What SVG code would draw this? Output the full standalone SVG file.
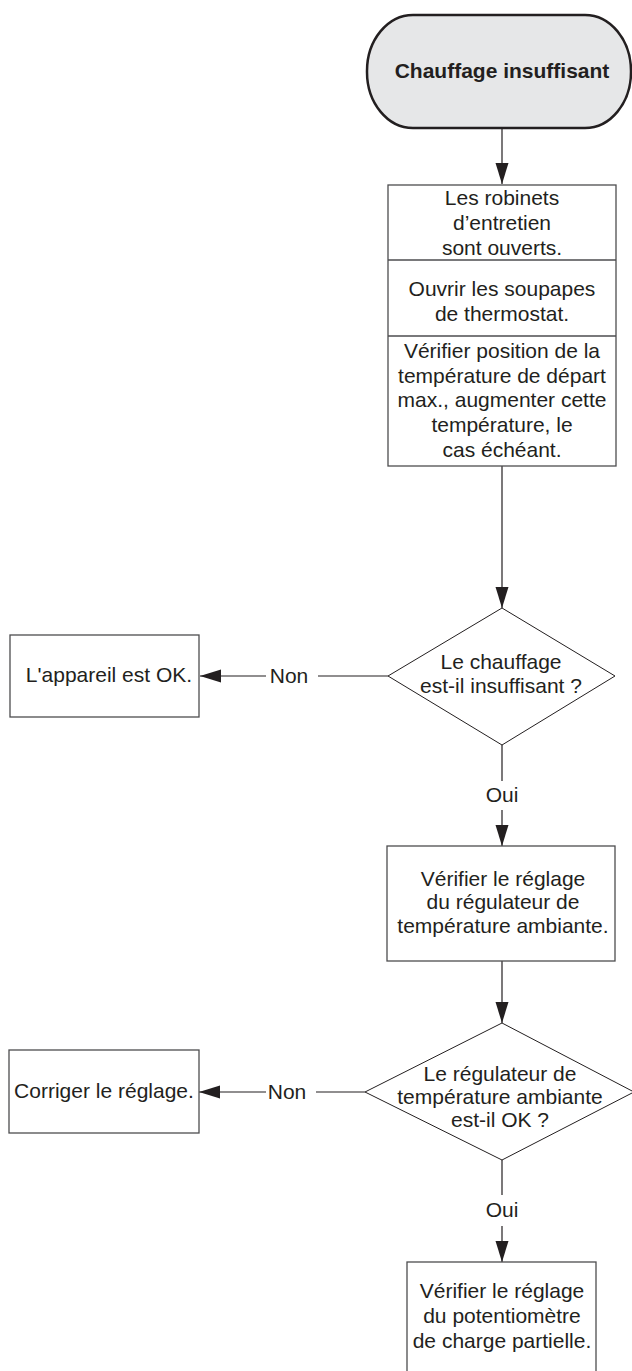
<svg xmlns="http://www.w3.org/2000/svg" width="632" height="1371" viewBox="0 0 632 1371">
  <style>
    .t { font-family: "Liberation Sans", Arial, sans-serif; font-size: 21px; fill: #231f20; text-anchor: middle; }
    .b { font-weight: bold; }
    .box { fill: #ffffff; stroke: #4d4d4f; stroke-width: 1.3; }
    .dia { fill: #ffffff; stroke: #231f20; stroke-width: 1; }
    .term { fill: #e6e7e8; stroke: #231f20; stroke-width: 2.5; }
    .ln { fill: none; stroke: #231f20; stroke-width: 1.2; }
    .arr { marker-end: url(#head); }
  </style>
  <defs>
    <marker id="head" markerUnits="userSpaceOnUse" markerWidth="22" markerHeight="14" refX="21" refY="6.5" orient="auto">
      <path d="M0,0 L21,6.5 L0,13 Z" fill="#231f20"/>
    </marker>
  </defs>
  <rect width="632" height="1371" fill="#ffffff"/>

  <!-- connectors -->
  <g id="connectors">
    <line class="ln arr" x1="502" y1="128" x2="502" y2="184"/>
    <line class="ln arr" x1="502" y1="466" x2="502" y2="608"/>
    <line class="ln" x1="502" y1="745" x2="502" y2="781"/>
    <line class="ln arr" x1="502" y1="810" x2="502" y2="846"/>
    <line class="ln arr" x1="502" y1="961" x2="502" y2="1023"/>
    <line class="ln" x1="502" y1="1160" x2="502" y2="1195"/>
    <line class="ln arr" x1="502" y1="1226" x2="502" y2="1262"/>
    <line class="ln" x1="388" y1="676" x2="318" y2="676"/>
    <line class="ln arr" x1="266" y1="676" x2="200" y2="676"/>
    <line class="ln" x1="365" y1="1092" x2="316" y2="1092"/>
    <line class="ln arr" x1="266" y1="1092" x2="199" y2="1092"/>
    <text class="t" x="289" y="683">Non</text>
    <text class="t" x="287" y="1099">Non</text>
    <text class="t" x="502" y="802">Oui</text>
    <text class="t" x="502" y="1217">Oui</text>
  </g>

  <!-- start -->
  <g id="start">
    <rect class="term" x="367" y="15" width="264" height="113" rx="46" ry="56"/>
    <text class="t b" x="502" y="78">Chauffage insuffisant</text>
  </g>

  <!-- stacked checks -->
  <g id="checks">
    <rect class="box" x="388" y="185" width="228" height="281"/>
    <line class="box" x1="388" y1="260" x2="616" y2="260"/>
    <line class="box" x1="388" y1="336" x2="616" y2="336"/>
    <text class="t" x="502" y="205">Les robinets</text>
    <text class="t" x="502" y="230">d’entretien</text>
    <text class="t" x="502" y="255">sont ouverts.</text>
    <text class="t" x="502" y="296">Ouvrir les soupapes</text>
    <text class="t" x="502" y="321">de thermostat.</text>
    <text class="t" x="502" y="358">Vérifier position de la</text>
    <text class="t" x="502" y="383">température de départ</text>
    <text class="t" x="502" y="407">max., augmenter cette</text>
    <text class="t" x="502" y="432">température, le</text>
    <text class="t" x="502" y="457">cas échéant.</text>
  </g>

  <!-- decision 1 -->
  <g id="decision1">
    <polygon class="dia" points="502,608 615,676 502,745 388,676"/>
    <text class="t" x="501" y="669">Le chauffage</text>
    <text class="t" x="501" y="693">est-il insuffisant ?</text>
  </g>

  <g id="ok">
    <rect class="box" x="10" y="635" width="189" height="82"/>
    <text class="t" x="109" y="682">L'appareil est OK.</text>
  </g>

  <g id="check-room">
    <rect class="box" x="387" y="846" width="228" height="115"/>
    <text class="t" x="503" y="886">Vérifier le réglage</text>
    <text class="t" x="503" y="909">du régulateur de</text>
    <text class="t" x="503" y="933">température ambiante.</text>
  </g>

  <!-- decision 2 -->
  <g id="decision2">
    <polygon class="dia" points="502,1023 634,1092 502,1160 365,1092"/>
    <text class="t" x="500" y="1081">Le régulateur de</text>
    <text class="t" x="500" y="1104">température ambiante</text>
    <text class="t" x="500" y="1127">est-il OK ?</text>
  </g>

  <g id="fix">
    <rect class="box" x="9" y="1050" width="190" height="83"/>
    <text class="t" x="104" y="1098">Corriger le réglage.</text>
  </g>

  <g id="check-pot">
    <rect class="box" x="407" y="1262" width="189" height="130"/>
    <text class="t" x="502" y="1298">Vérifier le réglage</text>
    <text class="t" x="502" y="1323">du potentiomètre</text>
    <text class="t" x="502" y="1348">de charge partielle.</text>
  </g>
</svg>
